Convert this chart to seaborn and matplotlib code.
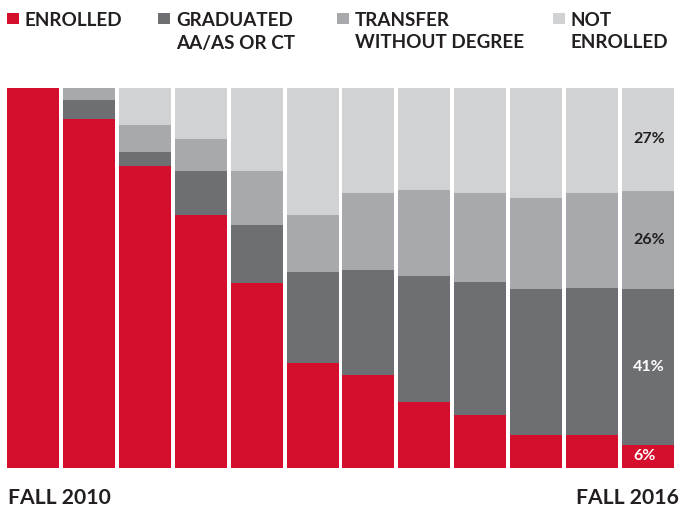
import matplotlib
matplotlib.use("Agg")
import matplotlib.pyplot as plt
import seaborn as sns
import pandas as pd
from matplotlib.patches import Rectangle

# term index (Fall 2010 ... Fall 2016), 12 bars
terms = [str(i) for i in range(1, 13)]

enrolled = [100.0, 91.8, 79.5, 66.5, 48.6, 27.6, 24.4, 17.3, 13.9, 8.6, 8.6, 6.0]
graduated = [0.0, 5.0, 3.7, 11.6, 15.3, 24.0, 27.6, 33.2, 35.0, 38.4, 38.7, 41.0]
transfer = [0.0, 3.2, 7.1, 8.4, 14.2, 15.0, 20.3, 22.7, 23.4, 24.0, 25.0, 26.0]
not_enrolled = [0.0, 0.0, 9.7, 13.5, 21.9, 33.4, 27.7, 26.8, 27.7, 29.0, 27.7, 27.0]

series_names = ["ENROLLED", "GRADUATED\nAA/AS OR CT", "TRANSFER\nWITHOUT DEGREE", "NOT\nENROLLED"]
colors = ["#D40E2C", "#6E6F73", "#A8A9AD", "#D1D2D4"]
text_dark = "#231F20"

df = pd.DataFrame({
    "term": terms,
    "enrolled": enrolled,
    "graduated": graduated,
    "transfer": transfer,
    "not_enrolled": not_enrolled,
})
df["c1"] = df["enrolled"]
df["c2"] = df["c1"] + df["graduated"]
df["c3"] = df["c2"] + df["transfer"]
df["c4"] = df["c3"] + df["not_enrolled"]

sns.set_style("white")
plt.rcParams["font.family"] = ["Lato", "DejaVu Sans"]

W, H = 683, 508
fig = plt.figure(figsize=(W / 100, H / 100), dpi=100)
ax = fig.add_axes([7 / W, 1 - 467.7 / H, 667 / W, 379.7 / H])

# stacked bars: draw cumulative totals from top layer down
for col, color in zip(["c4", "c3", "c2", "c1"], colors[::-1]):
    sns.barplot(data=df, x="term", y=col, color=color, saturation=1,
                width=0.93, errorbar=None, linewidth=0, ax=ax)

ax.set_xlim(-0.465, len(terms) - 1 + 0.465)
ax.set_ylim(0, 100)
ax.axis("off")

# value labels on the last bar
last = len(terms) - 1
mids = [df["c1"].iloc[-1] / 2,
        (df["c1"].iloc[-1] + df["c2"].iloc[-1]) / 2,
        (df["c2"].iloc[-1] + df["c3"].iloc[-1]) / 2,
        (df["c3"].iloc[-1] + df["c4"].iloc[-1]) / 2]
vals = [enrolled[-1], graduated[-1], transfer[-1], not_enrolled[-1]]
lab_colors = ["white", "white", text_dark, text_dark]
for m, v, c in zip(mids, vals, lab_colors):
    ax.text(last - 0.27, m, f"{v:.0f}%", ha="left", va="center",
            fontsize=11.5, fontweight="bold", color=c)

# legend across the top
sq_x = [7, 158, 337, 553]
for name, color, x in zip(series_names, colors, sq_x):
    fig.add_artist(Rectangle((x / W, 1 - 24 / H), 11.5 / W, 11.5 / H,
                             transform=fig.transFigure, color=color, lw=0))
    for i, line in enumerate(name.split("\n")):
        fig.text((x + 18) / W, 1 - (26 + 22.5 * i) / H, line, ha="left",
                 va="baseline", fontsize=13.6, fontweight="bold", color=text_dark)

fig.text(8 / W, 3.5 / H, "FALL 2010", ha="left", va="baseline",
         fontsize=15.2, fontweight="bold", color=text_dark)
fig.text(679 / W, 3.5 / H, "FALL 2016", ha="right", va="baseline",
         fontsize=15.2, fontweight="bold", color=text_dark)

fig.savefig("out.png", dpi=100)
